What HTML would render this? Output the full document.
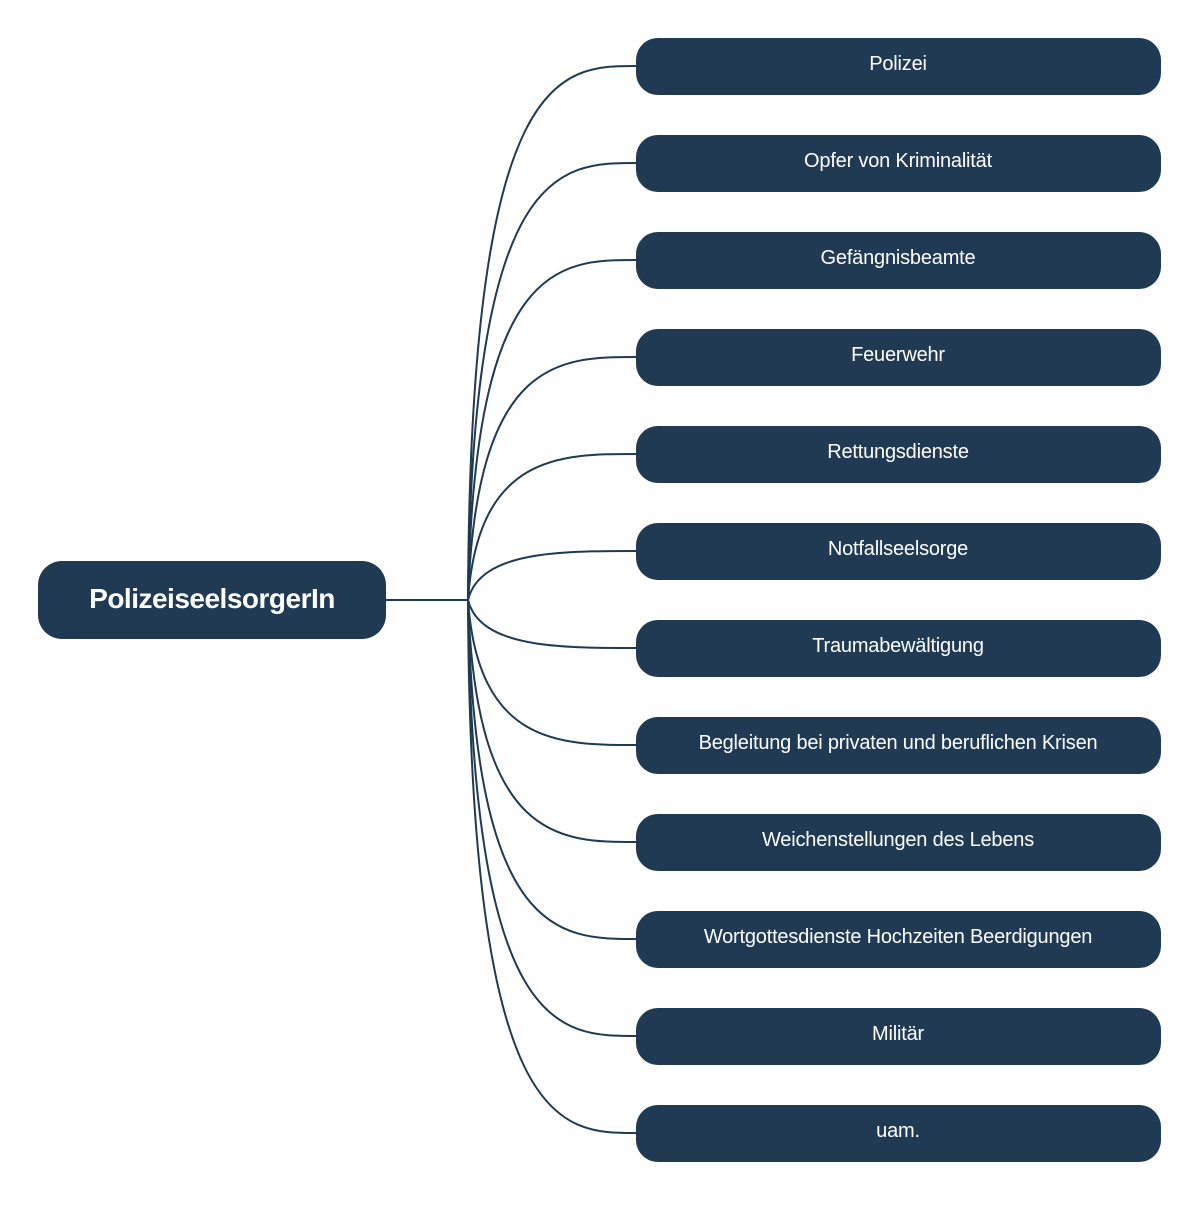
<!DOCTYPE html>
<html><head><meta charset="utf-8"><style>
body{margin:0;background:#fff;width:1199px;height:1200px;overflow:hidden}
text{font-family:"Liberation Sans",sans-serif;fill:#fff}
</style></head><body>
<svg width="1199" height="1200" xmlns="http://www.w3.org/2000/svg">
<g fill="none" stroke="#1f3a52" stroke-width="2">
<line x1="386" y1="600" x2="469" y2="600"/>
<path d="M468 600 C470 66,560 66,636 66"/>
<path d="M468 600 C472 163,560 163,636 163"/>
<path d="M468 600 C474 260,560 260,636 260"/>
<path d="M468 600 C476 357,560 357,636 357"/>
<path d="M468 600 C478 454,560 454,636 454"/>
<path d="M468 600 C480 551,560 551,636 551"/>
<path d="M468 600 C480 648,560 648,636 648"/>
<path d="M468 600 C478 745,560 745,636 745"/>
<path d="M468 600 C476 842,560 842,636 842"/>
<path d="M468 600 C474 939,560 939,636 939"/>
<path d="M468 600 C472 1036,560 1036,636 1036"/>
<path d="M468 600 C470 1133,560 1133,636 1133"/>
</g>
<g fill="#1f3a52">
<rect x="38" y="561" width="348" height="78" rx="24"/>
<rect x="636" y="38" width="525" height="57" rx="22"/>
<rect x="636" y="135" width="525" height="57" rx="22"/>
<rect x="636" y="232" width="525" height="57" rx="22"/>
<rect x="636" y="329" width="525" height="57" rx="22"/>
<rect x="636" y="426" width="525" height="57" rx="22"/>
<rect x="636" y="523" width="525" height="57" rx="22"/>
<rect x="636" y="620" width="525" height="57" rx="22"/>
<rect x="636" y="717" width="525" height="57" rx="22"/>
<rect x="636" y="814" width="525" height="57" rx="22"/>
<rect x="636" y="911" width="525" height="57" rx="22"/>
<rect x="636" y="1008" width="525" height="57" rx="22"/>
<rect x="636" y="1105" width="525" height="57" rx="22"/>
</g>
<text x="212" y="608" font-size="28" font-weight="bold" text-anchor="middle" letter-spacing="-0.5">PolizeiseelsorgerIn</text>
<g font-size="20" text-anchor="middle" letter-spacing="-0.2">
<text x="898" y="70">Polizei</text>
<text x="898" y="167">Opfer von Kriminalität</text>
<text x="898" y="264">Gefängnisbeamte</text>
<text x="898" y="361">Feuerwehr</text>
<text x="898" y="458">Rettungsdienste</text>
<text x="898" y="555">Notfallseelsorge</text>
<text x="898" y="652">Traumabewältigung</text>
<text x="898" y="749">Begleitung bei privaten und beruflichen Krisen</text>
<text x="898" y="846">Weichenstellungen des Lebens</text>
<text x="898" y="943">Wortgottesdienste Hochzeiten Beerdigungen</text>
<text x="898" y="1040">Militär</text>
<text x="898" y="1137">uam.</text>
</g>
</svg>
</body></html>
